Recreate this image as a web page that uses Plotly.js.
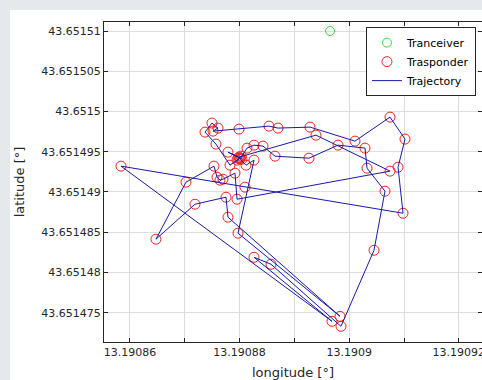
<!DOCTYPE html>
<html>
<head>
<meta charset="utf-8">
<script src="https://cdn.plot.ly/plotly-3.0.1.min.js"></script>
<style>
  html, body { margin: 0; padding: 0; background: #e5e9eb; width: 482px; height: 380px; overflow: hidden; }
  #chart { position: absolute; left: 10px; top: 10px; width: 472px; height: 370px; }
</style>
</head>
<body>
<div id="chart"></div>
<script>
// Transceiver position
const transceiverLon = [13.19089650];
const transceiverLat = [43.65151000];

// Transponder / trajectory positions (in order)
const trajLon = [
  13.19087971, 13.19088026, 13.19087953, 13.19088007, 13.19087825, 13.19087569, 13.19087369, 13.19087496,
  13.19087606, 13.19087515, 13.19087989, 13.19088537, 13.19088701, 13.19089285, 13.19090106, 13.19090745,
  13.19091018, 13.19090891, 13.19090982, 13.19088099, 13.19085836, 13.19089686, 13.19088263, 13.19088573,
  13.19089850, 13.19090453, 13.19090653, 13.19090325, 13.19090288, 13.19089796, 13.19089266, 13.19088646,
  13.19088427, 13.19088263, 13.19088135, 13.19088007, 13.19088117, 13.19088263, 13.19087971, 13.19089832,
  13.19087788, 13.19087752, 13.19087186, 13.19086474, 13.19087022, 13.19087533, 13.19087588, 13.19087642,
  13.19087697, 13.19087916, 13.19087953, 13.19090745, 13.19089394, 13.19087989, 13.19087788, 13.19088044
];
const trajLat = [
  43.65149420, 43.65149445, 43.65149396, 43.65149420, 43.65149333, 43.65149595, 43.65149744, 43.65149856,
  43.65149794, 43.65149756, 43.65149781, 43.65149818, 43.65149794, 43.65149806, 43.65149632, 43.65149930,
  43.65149657, 43.65149308, 43.65148736, 43.65149060, 43.65149321, 43.65147393, 43.65148189, 43.65148102,
  43.65147331, 43.65148276, 43.65149010, 43.65149296, 43.65149545, 43.65149582, 43.65149420, 43.65149445,
  43.65149570, 43.65149582, 43.65149545, 43.65149408, 43.65149333, 43.65149396, 43.65148488, 43.65147455,
  43.65148687, 43.65148935, 43.65148848, 43.65148413, 43.65149122, 43.65149321, 43.65149184, 43.65149147,
  43.65149159, 43.65149234, 43.65148910, 43.65149259, 43.65149706, 43.65149433, 43.65149495, 43.65149408
];

// Tick values and labels
const xTickVals = [13.19086, 13.19087, 13.19088, 13.19089, 13.1909, 13.19091, 13.19092];
const xTickText = ['13.19086', '', '13.19088', '', '13.1909', '', '13.19092'];
const yTickVals = [43.651475, 43.65148, 43.651485, 43.65149, 43.651495, 43.6515, 43.651505, 43.65151];
const yTickText = ['43.651475', '43.65148', '43.651485', '43.65149', '43.651495', '43.6515', '43.651505', '43.65151'];

const FONT = 'DejaVu Sans, sans-serif';
const AXC = '#262626';

const traces = [
  {
    type: 'scatter', mode: 'markers', name: 'Tranceiver',
    x: transceiverLon, y: transceiverLat,
    marker: { symbol: 'circle-open', size: 9, color: '#33dd33', line: { width: 1 } }
  },
  {
    type: 'scatter', mode: 'markers', name: 'Trasponder',
    x: trajLon, y: trajLat,
    marker: { symbol: 'circle-open', size: 10, color: '#ee2222', line: { width: 1 } }
  },
  {
    type: 'scatter', mode: 'lines', name: 'Trajectory',
    x: trajLon, y: trajLat,
    line: { color: '#1818a8', width: 1 }
  }
];

const layout = {
  width: 472, height: 370,
  margin: { l: 94, r: 0, t: 12, b: 38, pad: 0 },
  paper_bgcolor: '#ffffff', plot_bgcolor: '#ffffff',
  font: { family: FONT, size: 11, color: AXC },
  showlegend: true,
  legend: {
    x: 0.984, xanchor: 'right', y: 0.984, yanchor: 'top',
    bgcolor: '#ffffff', bordercolor: AXC, borderwidth: 1,
    font: { family: FONT, size: 11, color: '#000000' },
    tracegroupgap: 0
  },
  xaxis: {
    range: [13.19085526, 13.19092423],
    tickmode: 'array', tickvals: xTickVals, ticktext: xTickText,
    ticks: 'inside', ticklen: 4, tickcolor: AXC,
    ticklabeloverflow: 'allow',
    showline: true, linecolor: AXC, linewidth: 1, mirror: 'ticks',
    showgrid: true, gridcolor: '#dedede', gridwidth: 1, zeroline: false,
    tickfont: { family: FONT, size: 11, color: AXC },
    title: { text: 'longitude [°]', font: { family: FONT, size: 13, color: AXC }, standoff: 9 }
  },
  yaxis: {
    range: [43.65147136, 43.65151112],
    tickmode: 'array', tickvals: yTickVals, ticktext: yTickText,
    ticks: 'inside', ticklen: 4, tickcolor: AXC,
    showline: true, linecolor: AXC, linewidth: 1, mirror: 'ticks',
    showgrid: true, gridcolor: '#dedede', gridwidth: 1, zeroline: false,
    tickfont: { family: FONT, size: 11, color: AXC },
    title: { text: 'latitude [°]', font: { family: FONT, size: 13, color: AXC }, standoff: 13 }
  }
};

Plotly.newPlot('chart', traces, layout, { displayModeBar: false, staticPlot: true });
</script>
</body>
</html>
